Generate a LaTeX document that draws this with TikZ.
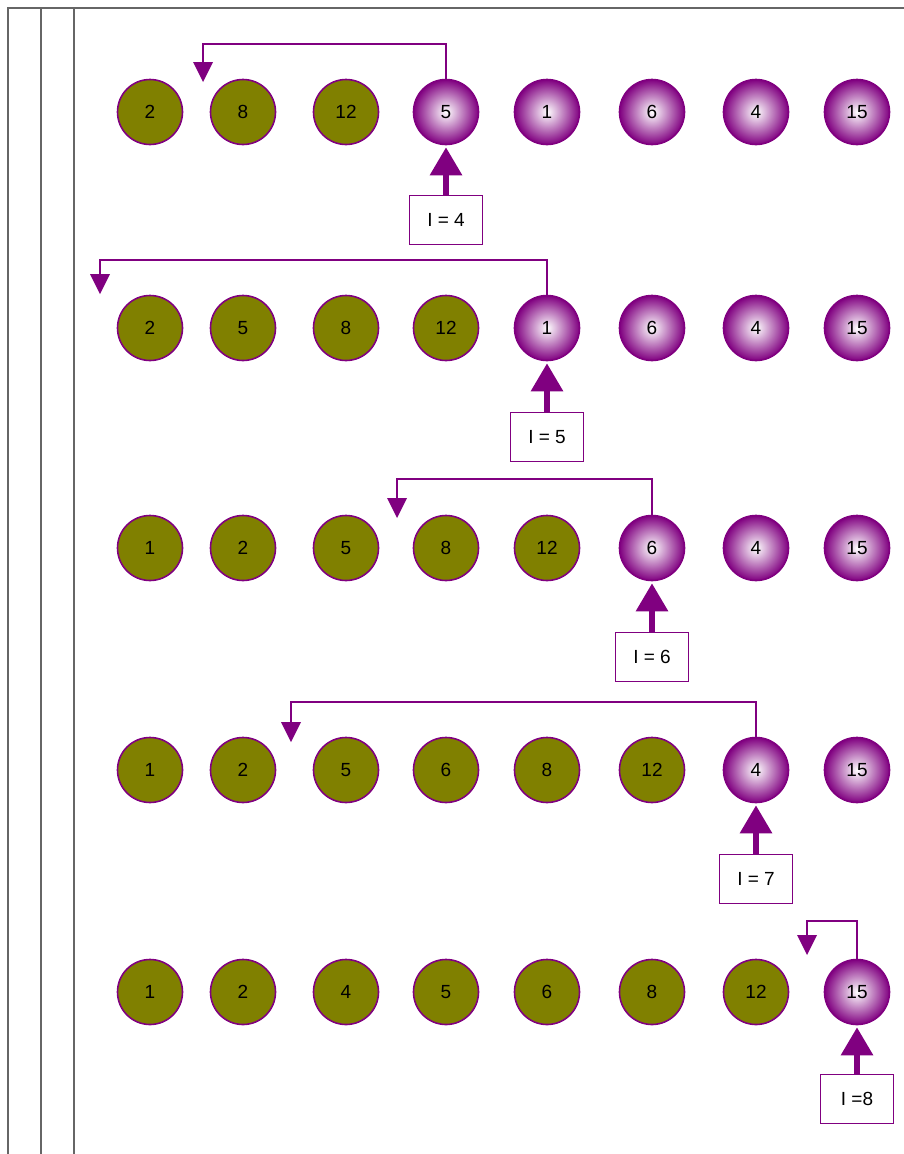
\documentclass[tikz,border=0pt]{standalone}
\usepackage{fontspec}
\setmainfont{Liberation Sans}
\usetikzlibrary{arrows.meta}
\definecolor{olv}{HTML}{808000}
\definecolor{pur}{HTML}{800080}
\definecolor{frame}{HTML}{666666}
\tikzset{
  done/.style={circle,draw=pur,line width=1.6pt,fill=olv,minimum size=65pt,inner sep=0pt,font=\fontsize{19}{21}\selectfont},
  cur/.style={circle,draw=pur,line width=1.6pt,shading=radial,inner color=white,outer color=pur,minimum size=65pt,inner sep=0pt,font=\fontsize{19}{21}\selectfont},
  ibox/.style={draw=pur,line width=1.6pt,fill=white,minimum width=73pt,minimum height=49pt,inner sep=0pt,font=\fontsize{19}{21}\selectfont},
  loopline/.style={draw=pur,line width=1.6pt},
  smallhead/.style={fill=pur,draw=none},
  bigarrow/.style={draw=pur,line width=6pt,-{Triangle[width=31pt,length=28pt]},shorten >=2pt},
  framel/.style={draw=frame,line width=2.2pt}
}
\begin{document}
\begin{tikzpicture}[x=1pt,y=-1pt]
\useasboundingbox (0,0) rectangle (904,1154);
% frame
\draw[framel] (8,1154) -- (8,8) -- (904,8);
\draw[framel] (41,8) -- (41,1154);
\draw[framel] (74,8) -- (74,1154);

\def\xa{150}\def\xb{243}\def\xc{346}\def\xd{446}\def\xe{547}\def\xf{652}\def\xg{756}\def\xh{857}

% row 1
\foreach \v/\x [count=\i] in {2/\xa,8/\xb,12/\xc}{\node[done] (c1\i) at (\x,112) {\v};}
\foreach \v/\x [count=\i from 4] in {5/\xd,1/\xe,6/\xf,4/\xg,15/\xh}{\node[cur] (c1\i) at (\x,112) {\v};}
\node[ibox] (b1) at (\xd,220) {I = 4};
\coordinate (t1) at (203,44);
\draw[loopline] (c14.north) -- (c14.north |- t1) -- (t1) -- ++(0,20);
\fill[smallhead] (193,62) -- (213,62) -- (203,82) -- cycle;
\draw[bigarrow] (b1.north) -- (c14.south);

% row 2
\foreach \v/\x [count=\i] in {2/\xa,5/\xb,8/\xc,12/\xd}{\node[done] (c2\i) at (\x,328) {\v};}
\foreach \v/\x [count=\i from 5] in {1/\xe,6/\xf,4/\xg,15/\xh}{\node[cur] (c2\i) at (\x,328) {\v};}
\node[ibox] (b2) at (\xe,437) {I = 5};
\coordinate (t2) at (100,260);
\draw[loopline] (c25.north) -- (c25.north |- t2) -- (t2) -- ++(0,14);
\fill[smallhead] (90,274) -- (110,274) -- (100,294) -- cycle;
\draw[bigarrow] (b2.north) -- (c25.south);

% row 3
\foreach \v/\x [count=\i] in {1/\xa,2/\xb,5/\xc,8/\xd,12/\xe}{\node[done] (c3\i) at (\x,548) {\v};}
\foreach \v/\x [count=\i from 6] in {6/\xf,4/\xg,15/\xh}{\node[cur] (c3\i) at (\x,548) {\v};}
\node[ibox] (b3) at (\xf,657) {I = 6};
\coordinate (t3) at (397,479);
\draw[loopline] (c36.north) -- (c36.north |- t3) -- (t3) -- ++(0,19);
\fill[smallhead] (387,498) -- (407,498) -- (397,518) -- cycle;
\draw[bigarrow] (b3.north) -- (c36.south);

% row 4
\foreach \v/\x [count=\i] in {1/\xa,2/\xb,5/\xc,6/\xd,8/\xe,12/\xf}{\node[done] (c4\i) at (\x,770) {\v};}
\foreach \v/\x [count=\i from 7] in {4/\xg,15/\xh}{\node[cur] (c4\i) at (\x,770) {\v};}
\node[ibox] (b4) at (\xg,879) {I = 7};
\coordinate (t4) at (291,702);
\draw[loopline] (c47.north) -- (c47.north |- t4) -- (t4) -- ++(0,20);
\fill[smallhead] (281,722) -- (301,722) -- (291,742) -- cycle;
\draw[bigarrow] (b4.north) -- (c47.south);

% row 5
\foreach \v/\x [count=\i] in {1/\xa,2/\xb,4/\xc,5/\xd,6/\xe,8/\xf,12/\xg}{\node[done] (c5\i) at (\x,992) {\v};}
\node[cur] (c58) at (\xh,992) {15};
\node[ibox] (b5) at (\xh,1099) {I =8};
\coordinate (t5) at (807,921);
\draw[loopline] (c58.north) -- (c58.north |- t5) -- (t5) -- ++(0,14);
\fill[smallhead] (797,935) -- (817,935) -- (807,955) -- cycle;
\draw[bigarrow] (b5.north) -- (c58.south);
\end{tikzpicture}
\end{document}
